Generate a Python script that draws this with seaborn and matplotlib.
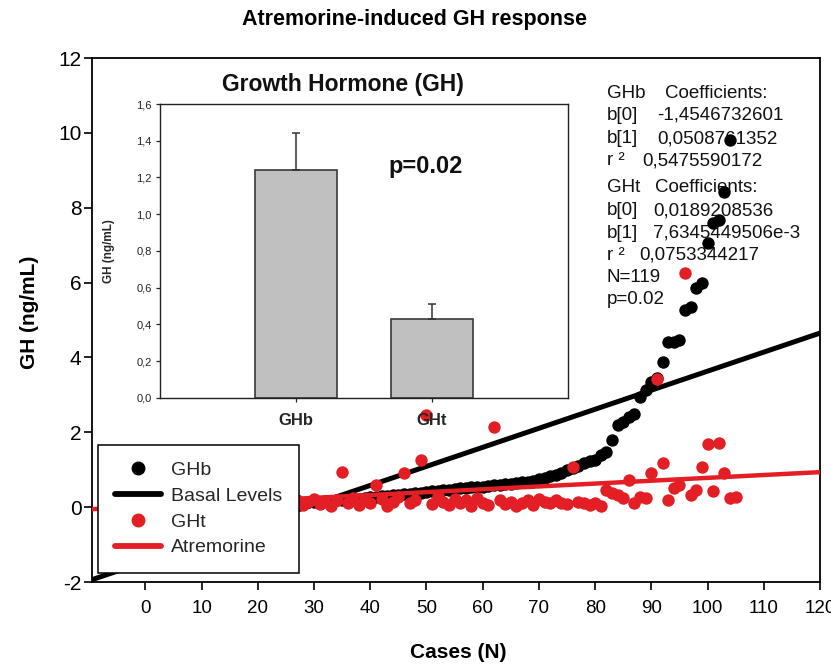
import numpy as np
import pandas as pd
import matplotlib
matplotlib.use("Agg")
import matplotlib.pyplot as plt
import seaborn as sns
from matplotlib import font_manager
from matplotlib.lines import Line2D

# ---------------- data ----------------
ghb_values = [
    0.00, 0.00, 0.01, 0.01, 0.01, 0.02, 0.02, 0.02, 0.03, 0.03,
    0.03, 0.04, 0.04, 0.04, 0.05, 0.05, 0.05, 0.06, 0.06, 0.06,
    0.07, 0.07, 0.07, 0.08, 0.08,
    0.10, 0.11, 0.12, 0.13, 0.14, 0.15, 0.16, 0.17, 0.18, 0.19,
    0.20, 0.21, 0.23, 0.24, 0.26,
    0.27, 0.29, 0.30, 0.32, 0.33, 0.35, 0.36, 0.38, 0.39, 0.41,
    0.42, 0.44, 0.45, 0.47, 0.49,
    0.50, 0.51, 0.53, 0.54, 0.55, 0.57, 0.58, 0.60, 0.61, 0.63,
    0.64, 0.66, 0.68, 0.70, 0.74,
    0.78, 0.82, 0.86, 0.92, 0.99, 1.05, 1.10, 1.17, 1.22, 1.27,
    1.38, 1.47,
    1.80, 2.20, 2.28, 2.40, 2.50, 2.95, 3.12, 3.35, 3.45, 3.88,
    4.40, 4.42, 4.47, 5.27, 5.36, 5.86, 5.99, 7.06, 7.60, 7.67,
    8.43, 9.81,
]
ght_values = [
    0.12, 0.08, 0.15, 0.10, 0.18, 0.05, 0.12, 0.20, 0.09, 0.14,
    0.06, 0.16, 0.11, 0.19, 0.07, 0.13, 0.10, 0.17, 0.05, 0.12,
    0.15, 0.08, 0.20, 0.11, 0.09,
    0.10, 0.18, 0.05, 0.14, 0.22, 0.08, 0.15, 0.03, 0.20, 0.94,
    0.12, 0.25, 0.06, 0.18, 0.10,
    0.59, 0.22, 0.04, 0.15, 0.28, 0.91, 0.12, 0.20, 1.26, 2.46,
    0.08, 0.30, 0.15, 0.05, 0.22,
    0.10, 0.18, 0.02, 0.25, 0.12, 0.06, 2.14, 0.20, 0.09, 0.15,
    0.03, 0.12, 0.18, 0.07, 0.22,
    0.15, 0.10, 0.18, 0.12, 0.08, 1.07, 0.14, 0.11, 0.05, 0.10,
    0.03, 0.45, 0.38, 0.32, 0.24, 0.72, 0.11, 0.28, 0.24, 0.92,
    3.42, 1.17, 0.19, 0.51, 0.59, 6.25, 0.32, 0.45, 1.08, 1.70,
    0.43, 1.72, 0.92, 0.25, 0.28,
]
ghb_cases = list(range(1, len(ghb_values) + 1))
ght_cases = list(range(1, len(ght_values) + 1))

coef_ghb = [-1.4546732601, 0.0508761352]
coef_ght = [0.0189208536, 7.6345449506e-3]

x_limits = [-9.5, 120]
y_limits = [-2, 12]
x_ticks = list(range(0, 121, 10))
y_ticks = list(range(-2, 13, 2))

bar_groups = ["GHb", "GHt"]
bar_means = [1.24, 0.43]
bar_errors = [0.20, 0.08]
inset_yticks = [0.0, 0.2, 0.4, 0.6, 0.8, 1.0, 1.2, 1.4, 1.6]
inset_ytick_labels = ["0,0", "0,2", "0,4", "0,6", "0,8", "1,0", "1,2", "1,4", "1,6"]

legend_labels = ["GHb", "Basal Levels", "GHt", "Atremorine"]

coef_text_rows = [
    ("GHb", "Coefficients:"),
    ("b[0]", "-1,4546732601"),
    ("b[1]", "0,0508761352"),
    ("r \u00b2", "0,5475590172"),
    ("GHt", "Coefficients:"),
    ("b[0]", "0,0189208536"),
    ("b[1]", "7,6345449506e-3"),
    ("r \u00b2", "0,0753344217"),
    ("N=119", ""),
    ("p=0.02", ""),
]

# ---------------- style ----------------
sns.set_theme(style="ticks")
plt.rcParams['font.family'] = ['Liberation Sans', 'DejaVu Sans']
names = {f.name for f in font_manager.fontManager.ttflist}
narrow = 'Liberation Sans Narrow' in names
xtick_family = ['Liberation Sans Narrow', 'DejaVu Sans'] if narrow else ['Liberation Sans', 'DejaVu Sans']
xtick_size = 14.5 if narrow else 13.5

RED = '#e31e24'
W, H = 831, 667

fig = plt.figure(figsize=(W / 100, H / 100), dpi=100)
fig.patch.set_facecolor('white')


def fx(px):
    return px / W


def fy(py):
    return 1 - py / H


ax = fig.add_axes([fx(92), fy(582), fx(820) - fx(92), fy(58) - fy(582)])
ax.set_facecolor('white')

df_b = pd.DataFrame({"case": ghb_cases, "GH": ghb_values})
df_t = pd.DataFrame({"case": ght_cases, "GH": ght_values})
xs = np.array(x_limits, dtype=float)
line_b = pd.DataFrame({"x": xs, "y": coef_ghb[0] + coef_ghb[1] * xs})
line_t = pd.DataFrame({"x": xs, "y": coef_ght[0] + coef_ght[1] * xs})

sns.lineplot(data=line_b, x="x", y="y", color="black", lw=3.6, ax=ax,
             zorder=3, legend=False, errorbar=None)
sns.scatterplot(data=df_b, x="case", y="GH", color="black", s=80, linewidth=0,
                ax=ax, zorder=4, legend=False)
sns.scatterplot(data=df_t, x="case", y="GH", color=RED, s=80, linewidth=0,
                ax=ax, zorder=5, legend=False)
sns.lineplot(data=line_t, x="x", y="y", color=RED, lw=3.2, ax=ax,
             zorder=6, legend=False, errorbar=None)

ax.set_xlim(*x_limits)
ax.set_ylim(*y_limits)
ax.set_xticks(x_ticks)
ax.set_yticks(y_ticks)
ax.set_xticklabels([str(t) for t in x_ticks], fontsize=xtick_size, family=xtick_family)
ax.set_yticklabels([str(t) for t in y_ticks], fontsize=15)
ax.tick_params(axis='x', direction='out', length=6, width=1.2, pad=7, colors='black')
ax.tick_params(axis='y', direction='out', length=6, width=1.2, pad=1.5, colors='black')
for sp in ax.spines.values():
    sp.set_color('black')
    sp.set_linewidth(1.3)
    sp.set_visible(True)

ax.set_xlabel("Cases (N)", fontsize=15, fontweight='bold', color='black')
ax.set_ylabel("GH (ng/mL)", fontsize=15, fontweight='bold', color='black')
ax.xaxis.set_label_coords((458 - 92) / 728, (582 - 643) / 524)
ax.yaxis.set_label_coords((39 - 92) / 728, (582 - 312) / 524)

fig.text(fx(415), fy(20), "Atremorine-induced GH response", ha='center', va='center',
         fontsize=15.5, fontweight='bold', color='black')

# coefficient text block (drawn beneath the points)
baselines = [98, 120, 143, 165, 192, 215, 238, 260, 282, 304]
value_x = [665, 657, 657, 642, 655, 653, 653, 639, 0, 0]
for (lab, val), by, vx in zip(coef_text_rows, baselines, value_x):
    ax.text(fx(607), fy(by), lab, transform=fig.transFigure, ha='left', va='baseline',
            fontsize=13.5, color='#111111', zorder=2)
    if val:
        ax.text(fx(vx), fy(by), val, transform=fig.transFigure, ha='left', va='baseline',
                fontsize=13.5, color='#111111', zorder=2)

# legend
handles = [
    Line2D([], [], marker='o', ls='none', color='black', markersize=9),
    Line2D([], [], color='black', lw=4.2),
    Line2D([], [], marker='o', ls='none', color=RED, markersize=9),
    Line2D([], [], color=RED, lw=4.2),
]
leg = ax.legend(handles, legend_labels, loc='upper left',
                bbox_to_anchor=((98 - 92) / 728, (582 - 445) / 524),
                frameon=True, fancybox=False, edgecolor='black', framealpha=1,
                fontsize=14, handlelength=2.4, handletextpad=0.5,
                labelspacing=0.42, borderpad=0.85, borderaxespad=0)
leg.get_frame().set_linewidth(1.1)
leg.set_zorder(10)

# ---------------- inset ----------------
ax_in = fig.add_axes([fx(160), fy(398), fx(568) - fx(160), fy(104) - fy(398)])
ax_in.set_facecolor('white')
ax_in.set_zorder(5)
sns.barplot(x=bar_groups, y=bar_means, color='#c0c0c0', edgecolor='#3a3a3a',
            linewidth=1.2, width=0.6, errorbar=None, ax=ax_in, saturation=1)
ax_in.errorbar(x=[0, 1], y=bar_means, yerr=[[0, 0], bar_errors], fmt='none',
               ecolor='#333333', elinewidth=1.1, capsize=3, capthick=1.1, zorder=1)
ax_in.set_xlim(-1.0, 2.0)
ax_in.set_ylim(0, 1.6)
ax_in.set_yticks(inset_yticks)
ax_in.set_yticklabels(inset_ytick_labels, fontsize=8, color='#222222')
ax_in.set_xticks([0, 1])
ax_in.set_xticklabels(bar_groups, fontsize=12, fontweight='bold')
ax_in.tick_params(axis='y', direction='out', length=3, width=0.9, pad=3)
ax_in.tick_params(axis='x', direction='out', length=3, width=0.9, pad=8)
for sp in ax_in.spines.values():
    sp.set_color('#222222')
    sp.set_linewidth(1.0)
    sp.set_visible(True)
ax_in.set_xlabel("")
ax_in.set_ylabel("GH (ng/mL)", fontsize=8.5, fontweight='bold')
ax_in.yaxis.set_label_coords(-0.11, 0.5)
ax_in.text(0.956, (398 - 173) / 183.75, "p=0.02", ha='center', va='baseline',
           fontsize=17, fontweight='bold', color='#111111')
ax_in.text((343 - 160) / 408, (398 - 91) / 294, "Growth Hormone (GH)",
           transform=ax_in.transAxes, ha='center', va='baseline',
           fontsize=16.5, fontweight='bold', color='#111111', clip_on=False)

fig.savefig("out.png", dpi=100, facecolor='white')
